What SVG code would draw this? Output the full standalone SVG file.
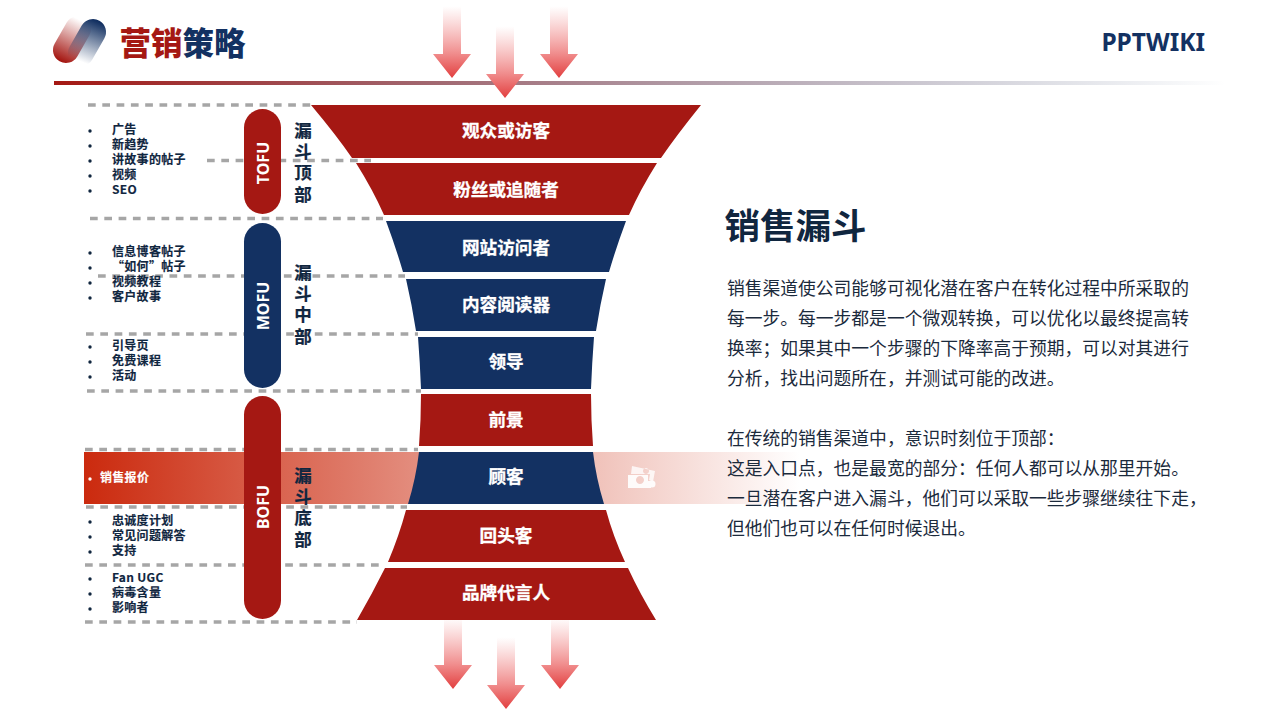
<svg xmlns="http://www.w3.org/2000/svg" width="1280" height="720" viewBox="0 0 1280 720">
<style>
text{font-family:"Noto Sans CJK SC","Noto Sans",sans-serif}
.list{font-size:12px;font-weight:700;fill:#10263f;letter-spacing:.3px;stroke:#10263f;stroke-width:.15}
.dash{stroke:#a6a6a6;stroke-width:3.6;stroke-dasharray:7.7 6.6;fill:none}
.seg{font-size:17.6px;font-weight:700;fill:#fff;text-anchor:middle;stroke:#fff;stroke-width:.3}
.red{fill:#a51813}.navy{fill:#133162}
.side{font-size:17.5px;font-weight:700;fill:#10263f;stroke:#10263f;stroke-width:.2;writing-mode:vertical-rl;letter-spacing:3.8px}
.pill{font-family:"Noto Sans",sans-serif;font-size:16px;font-weight:700;fill:#fff;text-anchor:middle}
.body{font-size:17.77px;fill:#1b2a3c}
.b{fill:#10263f}
</style>
<defs>
<linearGradient id="rule" x1="0" x2="1" y1="0" y2="0"><stop offset="0" stop-color="#a51813"/><stop offset="1" stop-color="#133162" stop-opacity="0"/></linearGradient>
<linearGradient id="band" x1="0" x2="1" y1="0" y2="0"><stop offset="0" stop-color="#cb2a0e"/><stop offset="1" stop-color="#cb2a0e" stop-opacity="0"/></linearGradient>
<linearGradient id="arr" x1="0" x2="0" y1="0" y2="1"><stop offset=".08" stop-color="#f4a0a0" stop-opacity="0"/><stop offset=".69" stop-color="#f08c8c"/><stop offset="1" stop-color="#e23f3f"/></linearGradient>
<linearGradient id="lgR" gradientUnits="userSpaceOnUse" x1="60" y1="60" x2="80" y2="20"><stop offset="0" stop-color="#a51813"/><stop offset="1" stop-color="#a51813" stop-opacity="0"/></linearGradient>
<linearGradient id="lgB" gradientUnits="userSpaceOnUse" x1="98" y1="22" x2="82" y2="62"><stop offset="0" stop-color="#133162"/><stop offset="1" stop-color="#133162" stop-opacity="0"/></linearGradient>
<path id="arrow" d="M-9 0H9V54H19L0 78L-19 54H-9Z" fill="url(#arr)"/>
</defs>
<rect width="1280" height="720" fill="#fff"/>

<g id="header">
<path d="M66 50L78 29" stroke="url(#lgR)" stroke-width="26" stroke-linecap="round" fill="none"/>
<path d="M93 32L81 53" stroke="url(#lgB)" stroke-width="26" stroke-linecap="round" fill="none"/>
<text x="119.500" y="55" font-size="31.500" font-weight="900"><tspan class="red">营销</tspan><tspan class="navy">策略</tspan></text>
<text x="1205" y="51" text-anchor="end" style="font-family:'Noto Sans',sans-serif" font-size="24.500" font-weight="700" class="navy">PPTWIKI</text>
<rect x="54" y="81" width="1172" height="4" fill="url(#rule)"/>
</g>

<rect id="band-bg" x="84" y="452" width="716" height="52" fill="url(#band)"/>

<g id="connectors">
<path class="dash" d="M88 105H311"/>
<path class="dash" d="M207 160.500H371"/>
<path class="dash" d="M90 218.500H383"/>
<path class="dash" d="M98 276H405"/>
<path class="dash" d="M86 334H418"/>
<path class="dash" d="M87 391H421"/>
<path class="dash" d="M85 449.500H418"/>
<path class="dash" d="M86 507H407"/>
<path class="dash" d="M85 565H385"/>
<path class="dash" d="M85 622H357"/>
<use href="#arrow" x="452" y="0"/>
<use href="#arrow" x="505" y="20"/>
<use href="#arrow" x="559" y="0"/>
<use href="#arrow" x="453" y="611"/>
<use href="#arrow" x="506" y="631"/>
<use href="#arrow" x="560" y="611"/>
</g>

<g id="seg1"><path class="red" d="M311 105H701Q676 136 661 158H352Q337 136 311 105Z"/><text class="seg" x="506" y="137">观众或访客</text></g>
<g id="seg2"><path class="red" d="M356 163H657Q640 190 629 215H384Q373 190 356 163Z"/><text class="seg" x="506" y="196">粉丝或追随者</text></g>
<g id="seg3"><path class="navy" d="M386 221H626Q616 248 609 272H403Q396 248 386 221Z"/><text class="seg" x="506" y="254">网站访问者</text></g>
<g id="seg4"><path class="navy" d="M406 279H606Q600 305 596 331H416Q412 305 406 279Z"/><text class="seg" x="506" y="311">内容阅读器</text></g>
<g id="seg5"><path class="navy" d="M418 337H594Q592 363 591 389H421Q420 363 418 337Z"/><text class="seg" x="506" y="368">领导</text></g>
<g id="seg6"><path class="red" d="M421 394H591Q591 420 593 446H419Q421 420 421 394Z"/><text class="seg" x="506" y="426">前景</text></g>
<g id="seg7"><path class="navy" d="M419 452H593Q596 478 604 504H408Q416 478 419 452Z"/><text class="seg" x="506" y="483">顾客</text></g>
<g id="seg8"><path class="red" d="M406 510H606Q613 536 625 562H388Q399 536 406 510Z"/><text class="seg" x="506" y="542">回头客</text></g>
<g id="seg9"><path class="red" d="M385 568H628Q640 594 656 620H357Q372 594 385 568Z"/><text class="seg" x="506" y="599">品牌代言人</text></g>

<g id="icon" fill="#fff" opacity=".92">
<path fill-rule="evenodd" d="M632 466L655 471L653 482L649 480L650 474H631ZM646 468a3 3 0 1 0 .01 0Z" opacity=".85"/>
<path fill-rule="evenodd" d="M628 475H648V481H651V488H628ZM640 476a4 4 0 1 0 .01 0Z"/>
<circle cx="652" cy="484" r="3.500"/>
</g>

<g id="tofu"><rect class="red" x="244" y="109" width="37" height="105" rx="18.500"/><text class="pill" transform="translate(269 163) rotate(-90)">TOFU</text>
<text class="side" x="303" y="121.500">漏斗顶部</text></g>
<g id="mofu"><rect class="navy" x="244" y="223" width="37" height="165" rx="18.500"/><text class="pill" transform="translate(269 306) rotate(-90)">MOFU</text>
<text class="side" x="303" y="263.500">漏斗中部</text></g>
<g id="bofu"><rect class="red" x="244" y="396" width="37" height="223" rx="18.500"/><text class="pill" transform="translate(269 507) rotate(-90)">BOFU</text>
<text class="side" x="303" y="466.500">漏斗底部</text></g>

<g id="list-tofu"><circle class="b" cx="90" cy="131" r="1.700"/><circle class="b" cx="90" cy="146" r="1.700"/><circle class="b" cx="90" cy="161" r="1.700"/><circle class="b" cx="90" cy="176" r="1.700"/><circle class="b" cx="90" cy="191" r="1.700"/>
<text class="list" x="112" y="134">广告</text><text class="list" x="112" y="149">新趋势</text><text class="list" x="112" y="164">讲故事的帖子</text><text class="list" x="112" y="179">视频</text><text class="list" x="112" y="194">SEO</text></g>
<g id="list-mofu"><circle class="b" cx="90" cy="253" r="1.700"/><circle class="b" cx="90" cy="268" r="1.700"/><circle class="b" cx="90" cy="283" r="1.700"/><circle class="b" cx="90" cy="298" r="1.700"/>
<text class="list" x="112" y="256">信息博客帖子</text><text class="list" x="112" y="271">“如何”帖子</text><text class="list" x="112" y="286">视频教程</text><text class="list" x="112" y="301">客户故事</text></g>
<g id="list-mofu2"><circle class="b" cx="90" cy="347" r="1.700"/><circle class="b" cx="90" cy="362" r="1.700"/><circle class="b" cx="90" cy="377" r="1.700"/>
<text class="list" x="112" y="349.500">引导页</text><text class="list" x="112" y="364.500">免费课程</text><text class="list" x="112" y="379.500">活动</text></g>
<g id="list-quote"><circle cx="90" cy="479" r="1.700" fill="#fff"/><text class="list" x="100" y="481.500" style="fill:#fff;stroke:#fff" letter-spacing="0">销售报价</text></g>
<g id="list-bofu"><circle class="b" cx="90" cy="522" r="1.700"/><circle class="b" cx="90" cy="537" r="1.700"/><circle class="b" cx="90" cy="552" r="1.700"/>
<text class="list" x="112" y="524.500">忠诚度计划</text><text class="list" x="112" y="539.500">常见问题解答</text><text class="list" x="112" y="554.500">支持</text></g>
<g id="list-bofu2"><circle class="b" cx="90" cy="579" r="1.700"/><circle class="b" cx="90" cy="594" r="1.700"/><circle class="b" cx="90" cy="609" r="1.700"/>
<text class="list" x="112" y="581.500">Fan UGC</text><text class="list" x="112" y="596.500">病毒含量</text><text class="list" x="112" y="611.500">影响者</text></g>

<g id="description">
<text x="724.500" y="239" font-size="35.500" font-weight="700" fill="#10263f">销售漏斗</text>
<text class="body" x="727" y="295">销售渠道使公司能够可视化潜在客户在转化过程中所采取的</text>
<text class="body" x="727" y="325">每一步。每一步都是一个微观转换，可以优化以最终提高转</text>
<text class="body" x="727" y="355">换率；如果其中一个步骤的下降率高于预期，可以对其进行</text>
<text class="body" x="727" y="385">分析，找出问题所在，并测试可能的改进。</text>
<text class="body" x="727" y="445">在传统的销售渠道中，意识时刻位于顶部：</text>
<text class="body" x="727" y="475">这是入口点，也是最宽的部分：任何人都可以从那里开始。</text>
<text class="body" x="727" y="505">一旦潜在客户进入漏斗，他们可以采取一些步骤继续往下走，</text>
<text class="body" x="727" y="535">但他们也可以在任何时候退出。</text>
</g>
</svg>
